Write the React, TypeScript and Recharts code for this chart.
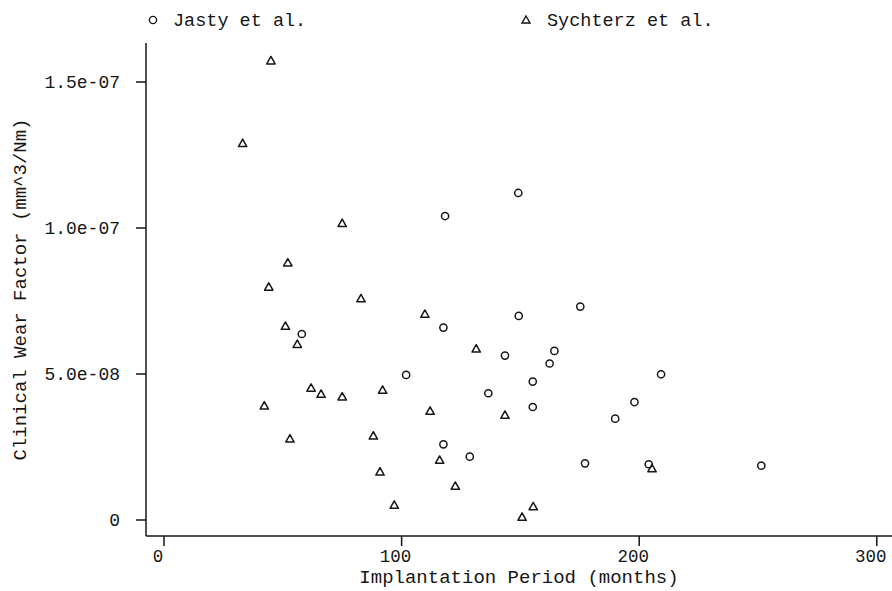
import React from 'react';
import { ScatterChart, Scatter, XAxis, YAxis, Legend } from 'recharts';

// Jasty et al. (circles)
const jastyMonths = [58.0, 149.1, 118.3, 117.6, 149.3, 175.2, 143.5, 164.3, 162.3, 101.9, 155.2, 136.5, 155.2, 198.0, 189.9, 117.6, 128.7, 177.2, 209.2, 204.0, 251.4];
const jastyWear = [6.37e-8, 11.2e-8, 10.41e-8, 6.59e-8, 6.99e-8, 7.31e-8, 5.63e-8, 5.79e-8, 5.36e-8, 4.97e-8, 4.74e-8, 4.34e-8, 3.87e-8, 4.04e-8, 3.47e-8, 2.59e-8, 2.17e-8, 1.94e-8, 4.99e-8, 1.91e-8, 1.86e-8];

// Sychterz et al. (triangles)
const sychterzMonths = [45.0, 33.1, 75.0, 52.1, 44.1, 82.9, 51.1, 56.1, 109.8, 131.4, 61.9, 66.1, 75.0, 92.0, 42.2, 53.0, 88.1, 90.9, 96.9, 112.0, 143.5, 116.0, 122.6, 155.4, 150.7, 205.4];
const sychterzWear = [15.73e-8, 12.9e-8, 10.16e-8, 8.81e-8, 7.98e-8, 7.58e-8, 6.64e-8, 6.02e-8, 7.05e-8, 5.86e-8, 4.52e-8, 4.31e-8, 4.22e-8, 4.45e-8, 3.91e-8, 2.78e-8, 2.88e-8, 1.65e-8, 0.51e-8, 3.73e-8, 3.59e-8, 2.05e-8, 1.16e-8, 0.46e-8, 0.1e-8, 1.76e-8];

const xTicks = [0, 100, 200, 300];
const yTicks = [0, 5e-8, 1e-7, 1.5e-7];

const seriesNames = ['Jasty et al.', 'Sychterz et al.'];
const xTitle = 'Implantation Period (months)';
const yTitle = 'Clinical Wear Factor (mm^3/Nm)';

const jastyData = jastyMonths.map((x, i) => ({ x, y: jastyWear[i] }));
const sychterzData = sychterzMonths.map((x, i) => ({ x, y: sychterzWear[i] }));

const FONT = '"Liberation Mono", "DejaVu Sans Mono", monospace';
const INK = '#161616';

const fmtY = (v: number) => {
  if (Math.abs(v) < 1e-12) return '0';
  return v.toExponential(1).replace(/e-(\d)$/, 'e-0$1');
};

const CircleShape = (props: any) => {
  const { cx, cy } = props;
  if (cx == null || cy == null) return null;
  return <circle cx={cx} cy={cy} r={3.6} fill="none" stroke={INK} strokeWidth={1.5} />;
};

const TriangleShape = (props: any) => {
  const { cx, cy } = props;
  if (cx == null || cy == null) return null;
  const d = `M${cx},${cy - 4.2}L${cx + 4.2},${cy + 3.2}L${cx - 4.2},${cy + 3.2}Z`;
  return <path d={d} fill="none" stroke={INK} strokeWidth={1.5} strokeLinejoin="round" />;
};

const LegendContent = () => (
  <svg width={892} height={40} style={{ display: 'block' }}>
    <circle cx={153} cy={20} r={3.6} fill="none" stroke={INK} strokeWidth={1.4} />
    <text x={173} y={26} fontFamily={FONT} fontSize={18.5} fill={INK}>{seriesNames[0]}</text>
    <path d="M526,16L530,23L522,23Z" fill="none" stroke={INK} strokeWidth={1.4} />
    <text x={547} y={26} fontFamily={FONT} fontSize={18.5} fill={INK}>{seriesNames[1]}</text>
  </svg>
);

export default function App() {
  return (
    <div style={{ position: 'absolute', left: 0, top: 0, width: 892, height: 591, background: '#fff' }}>
      <ScatterChart width={892} height={591} margin={{ top: 43, right: 0, bottom: 0, left: 0 }}>
        <XAxis
          type="number"
          dataKey="x"
          domain={[-7.58, 306.4]}
          ticks={xTicks}
          allowDataOverflow
          height={55}
          tickSize={10}
          tickMargin={4}
          stroke={INK}
          strokeWidth={1.5}
          tick={{ fill: INK, fontFamily: FONT, fontSize: 17.5, dx: -6 }}
          label={{ value: xTitle, position: 'insideBottom', offset: 8, fill: INK, fontFamily: FONT, fontSize: 19 }}
        />
        <YAxis
          type="number"
          dataKey="y"
          domain={[-0.548e-8, 16.336e-8]}
          ticks={yTicks}
          allowDataOverflow
          width={146}
          tickSize={10}
          tickMargin={16}
          stroke={INK}
          strokeWidth={1.5}
          tickFormatter={fmtY}
          tick={{ fill: INK, fontFamily: FONT, fontSize: 18 }}
          label={{ value: yTitle, angle: -90, position: 'insideLeft', offset: 19, fill: INK, fontFamily: FONT, fontSize: 19, style: { textAnchor: 'middle' } }}
        />
        <Legend
          layout="horizontal"
          verticalAlign="middle"
          align="center"
          wrapperStyle={{ top: 0, left: 0, width: 892, height: 40 }}
          content={LegendContent}
        />
        <Scatter name={seriesNames[0]} data={jastyData} shape={CircleShape} isAnimationActive={false} />
        <Scatter name={seriesNames[1]} data={sychterzData} shape={TriangleShape} isAnimationActive={false} />
      </ScatterChart>
    </div>
  );
}
